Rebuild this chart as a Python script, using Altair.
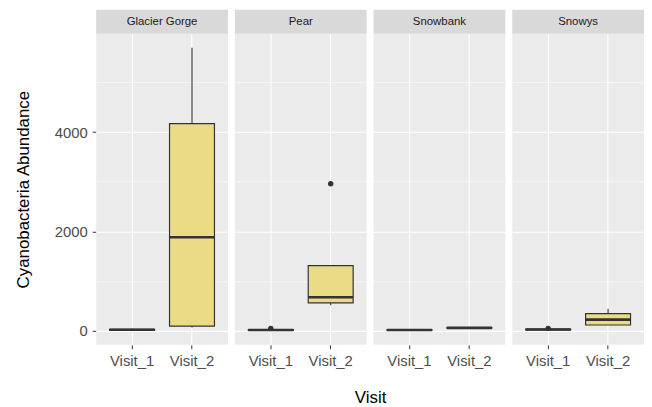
import altair as alt
import pandas as pd

FONT = "Liberation Sans"
FILL = "#ECDB85"
LINE = "#333333"
W = 133
H = 314
STRIP = 24

sites = ["Glacier Gorge", "Pear", "Snowbank", "Snowys"]
visits = ["Visit_1", "Visit_2"]

# per site x visit (GG V1, GG V2, Pear V1, Pear V2, Snowbank V1, Snowbank V2, Snowys V1, Snowys V2)
lower = [0, 60, 0, 510, 0, 40, 5, 110]
q1 = [5, 90, 5, 560, 5, 50, 12, 112]
median = [15, 1880, 12, 670, 12, 55, 20, 220]
q3 = [25, 4170, 20, 1310, 20, 62, 28, 340]
upper = [40, 5700, 30, 1310, 30, 70, 35, 440]
outlier = [None, None, 45, 2960, None, None, 45, None]

df = pd.DataFrame({
    "site": [s for s in sites for _ in visits],
    "visit": visits * len(sites),
    "lower": lower,
    "q1": q1,
    "median": median,
    "q3": q3,
    "upper": upper,
    "outlier": outlier,
})

x_enc = alt.X(
    "visit:N", sort=visits,
    scale=alt.Scale(paddingInner=0, paddingOuter=0.1),
    axis=alt.Axis(
        title=None, grid=True, gridColor="white", gridWidth=1.1, bandPosition=0.5,
        domain=False, tickColor=LINE, tickSize=4, labelFontSize=15,
        labelColor="#4D4D4D", labelPadding=5, labelAngle=0, labelFont=FONT,
    ),
)

y_scale = alt.Scale(domain=[-285, 5985], nice=False, zero=False)
y_axis = alt.Axis(
    title="Cyanobacteria Abundance",
    values=[0, 1000, 2000, 3000, 4000, 5000],
    format="d",
    labelExpr="datum.value % 2000 === 0 ? datum.label : ''",
    gridColor="white",
    gridWidth={"condition": {"test": "datum.value % 2000 === 0", "value": 1.1}, "value": 0.55},
    tickOpacity={"condition": {"test": "datum.value % 2000 === 0", "value": 1}, "value": 0},
    domain=False, tickColor=LINE, tickSize=4, labelFontSize=15, labelColor="#4D4D4D",
    labelPadding=5, labelFont=FONT,
    titleFontSize=17, titleFontWeight="normal", titleColor="black", titleFont=FONT,
    titlePadding=22,
)


def Y(field):
    return alt.Y(field, type="quantitative", scale=y_scale, axis=y_axis)


base = alt.Chart()

strip = base.mark_rect(fill="#D9D9D9").encode(
    x=alt.value(0), x2=alt.value(W), y=alt.value(-STRIP), y2=alt.value(0)
).transform_filter(alt.datum.visit == "Visit_1")

strip_text = base.mark_text(fontSize=11.5, color="#1A1A1A", font=FONT).encode(
    x=alt.value(W / 2), y=alt.value(-STRIP / 2), text="site:N"
).transform_filter(alt.datum.visit == "Visit_1")

whisk_lo = base.mark_rule(color=LINE, strokeWidth=1.1).encode(x=x_enc, y=Y("lower"), y2="q1:Q")
whisk_hi = base.mark_rule(color=LINE, strokeWidth=1.1).encode(x=x_enc, y=Y("q3"), y2="upper:Q")
box = base.mark_bar(fill=FILL, stroke=LINE, strokeWidth=1.2, width={"band": 0.75}).encode(
    x=x_enc, y=Y("q1"), y2="q3:Q"
)
med = base.mark_bar(fill=LINE, stroke=LINE, strokeWidth=2.6, width={"band": 0.75}).encode(
    x=x_enc, y=Y("median"), y2="median:Q"
)
out = base.mark_circle(size=30, color=LINE, opacity=1).encode(x=x_enc, y=Y("outlier"))

layer = alt.layer(strip, whisk_lo, whisk_hi, box, med, out, strip_text, data=df).properties(
    width=W, height=H
)

chart = layer.facet(
    column=alt.Column(
        "site:N", sort=sites,
        header=alt.Header(
            labels=False, title="Visit", titleOrient="bottom", titleFontSize=17,
            titleFont=FONT, titleFontWeight="normal", titleColor="black", titlePadding=12,
        ),
    ),
    spacing=7,
).properties(
    padding={"left": 6, "top": 0, "right": 0, "bottom": 0}
).configure(font=FONT).configure_view(fill="#EBEBEB", strokeWidth=0)

chart.save("out.html", embed_options={"renderer": "svg", "actions": False})
